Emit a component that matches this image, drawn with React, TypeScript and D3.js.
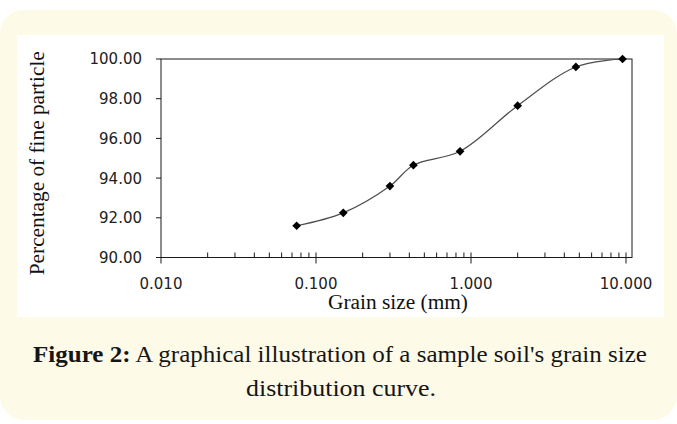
import React from "react";
import * as d3 from "d3";

// sieve sizes (mm) and percent passing
const grainSizes = [0.075, 0.15, 0.3, 0.425, 0.85, 2.0, 4.75, 9.5];
const percentFiner = [91.6, 92.25, 93.6, 94.65, 95.35, 97.65, 99.6, 100.0];
const xTickValues = [0.01, 0.1, 1, 10];
const yTickValues = [90, 92, 94, 96, 98, 100];

const W = 677;
const H = 424;

export default function App() {
  const plot = { left: 161, right: 626, top: 59, bottom: 257.5 };

  const x = d3.scaleLog().domain([0.01, 10]).range([plot.left, plot.right]);
  const y = d3.scaleLinear().domain([90, 100]).range([plot.bottom, plot.top]);
  const frameRight = plot.right + 6;

  const points = grainSizes.map((s, i) => ({ s, p: percentFiner[i] }));

  const line = d3
    .line<{ s: number; p: number }>()
    .x((d) => x(d.s))
    .y((d) => y(d.p))
    .curve(d3.curveCatmullRom.alpha(0.5));

  const marker = d3.symbol().type(d3.symbolSquare).size(38)();

  // minor ticks 2..9 in every decade
  const minorTicks: number[] = [];
  for (let dec = 0.01; dec < 10; dec *= 10) {
    for (let k = 2; k <= 9; k++) minorTicks.push(+(dec * k).toPrecision(3));
  }

  const tickFont = "'DejaVu Sans', Verdana, sans-serif";
  const serif = "'Liberation Serif', 'Times New Roman', serif";

  return (
    <svg
      width={W}
      height={H}
      style={{ position: "absolute", left: 0, top: 0, display: "block" }}
    >
      <rect x={0} y={0} width={W} height={H} fill="#ffffff" />
      <rect x={0} y={10} width={W} height={410} rx={24} fill="#fdfae8" />
      <rect x={17} y={35} width={647} height={282} fill="#ffffff" />

      {/* plot frame */}
      <rect
        x={plot.left}
        y={plot.top}
        width={frameRight - plot.left}
        height={plot.bottom - plot.top}
        fill="none"
        stroke="#1a1a1a"
        strokeWidth={1}
      />

      {/* y axis ticks + labels */}
      {yTickValues.map((v) => (
        <g key={"y" + v}>
          <line x1={plot.left - 5} x2={plot.left} y1={y(v)} y2={y(v)} stroke="#1a1a1a" />
          <text
            x={142}
            y={y(v)}
            dy="0.36em"
            textAnchor="end"
            fontFamily={tickFont}
            fontSize={15}
            fill="#222"
          >
            {d3.format(".2f")(v)}
          </text>
        </g>
      ))}

      {/* x axis minor ticks */}
      {minorTicks.map((v) => (
        <line
          key={"m" + v}
          x1={x(v)}
          x2={x(v)}
          y1={plot.bottom}
          y2={plot.bottom - 5}
          stroke="#1a1a1a"
        />
      ))}

      {/* x axis major ticks + labels */}
      {xTickValues.map((v) => (
        <g key={"x" + v}>
          <line
            x1={x(v)}
            x2={x(v)}
            y1={plot.bottom - (v === 0.01 ? 0 : 5)}
            y2={plot.bottom + 6}
            stroke="#1a1a1a"
          />
          <text
            x={x(v)}
            y={289}
            textAnchor="middle"
            fontFamily={tickFont}
            fontSize={15}
            fill="#222"
          >
            {d3.format(".3f")(v)}
          </text>
        </g>
      ))}

      {/* smoothed curve */}
      <path d={line(points) || ""} fill="none" stroke="#4d4d4d" strokeWidth={1.2} />

      {points.map((d, i) => (
        <path
          key={"pt" + i}
          d={marker || ""}
          transform={`translate(${x(d.s)},${y(d.p)}) rotate(45)`}
          fill="#000"
        />
      ))}

      {/* axis titles */}
      <text
        x={398}
        y={309}
        textAnchor="middle"
        fontFamily={serif}
        fontSize={20}
        textLength={140}
        lengthAdjust="spacingAndGlyphs"
        fill="#111"
      >
        Grain size (mm)
      </text>
      <text
        transform={`translate(44, ${(plot.top + plot.bottom) / 2 + 5}) rotate(-90)`}
        textAnchor="middle"
        fontFamily={serif}
        fontSize={21}
        textLength={224}
        lengthAdjust="spacingAndGlyphs"
        fill="#111"
      >
        Percentage of fine particle
      </text>

      {/* caption */}
      <text
        x={340}
        y={362}
        textAnchor="middle"
        fontFamily={serif}
        fontSize={24}
        textLength={614}
        lengthAdjust="spacingAndGlyphs"
        fill="#151515"
      >
        <tspan fontWeight="bold">Figure 2:</tspan> A graphical illustration of a sample soil's grain size
      </text>
      <text
        x={341}
        y={396}
        textAnchor="middle"
        fontFamily={serif}
        fontSize={24}
        textLength={190}
        lengthAdjust="spacingAndGlyphs"
        fill="#151515"
      >
        distribution curve.
      </text>
    </svg>
  );
}
